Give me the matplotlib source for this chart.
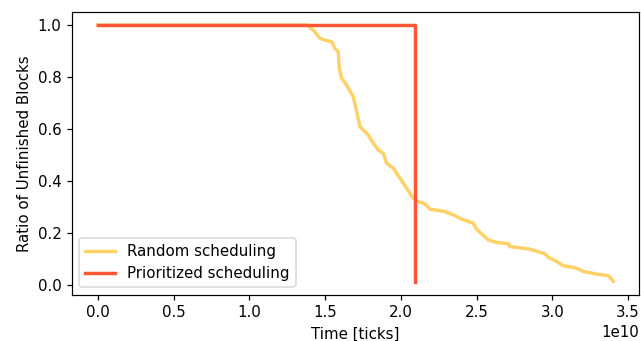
import matplotlib
matplotlib.use("Agg")
import matplotlib.pyplot as plt

# Random scheduling: time (1e10 ticks) vs ratio of unfinished blocks
random_t = [0.0, 1.385, 1.433, 1.466, 1.499, 1.543, 1.565, 1.587, 1.593, 1.609,
            1.642, 1.686, 1.708, 1.730, 1.74, 1.784, 1.818, 1.851, 1.884, 1.906,
            1.95, 1.994, 2.038, 2.081, 2.114, 2.158, 2.191, 2.29, 2.345, 2.40,
            2.477, 2.499, 2.532, 2.576, 2.631, 2.708, 2.719, 2.851, 2.95, 2.972,
            3.027, 3.071, 3.159, 3.203, 3.291, 3.368, 3.401]
random_r = [1.0, 1.0, 0.974, 0.949, 0.942, 0.936, 0.910, 0.897, 0.833, 0.795,
            0.769, 0.724, 0.667, 0.609, 0.603, 0.577, 0.545, 0.519, 0.506, 0.468,
            0.449, 0.410, 0.372, 0.333, 0.320, 0.312, 0.291, 0.282, 0.269, 0.253,
            0.237, 0.214, 0.196, 0.173, 0.163, 0.158, 0.147, 0.137, 0.119, 0.106,
            0.090, 0.073, 0.064, 0.051, 0.041, 0.035, 0.013]

# Prioritized scheduling: all blocks finish at once
prio_t = [0.0, 2.092, 2.092]
prio_r = [1.0, 1.0, 0.01]


def main():
    dpi = 108
    fig, ax = plt.subplots(figsize=(641 / dpi, 341 / dpi), dpi=dpi)
    fig.subplots_adjust(left=0.1123, right=0.9969, top=0.964, bottom=0.135)

    ax.plot([t * 1e10 for t in random_t], random_r, color="#ffd166", lw=2.3,
            label="Random scheduling")
    ax.plot([t * 1e10 for t in prio_t], prio_r, color="#ff5733", lw=2.3,
            label="Prioritized scheduling")

    ax.set_xlabel("Time [ticks]")
    ax.set_ylabel("Ratio of Unfinished Blocks")
    ax.legend(loc="lower left")

    fig.savefig("out.png", dpi=dpi)


if __name__ == "__main__":
    main()
